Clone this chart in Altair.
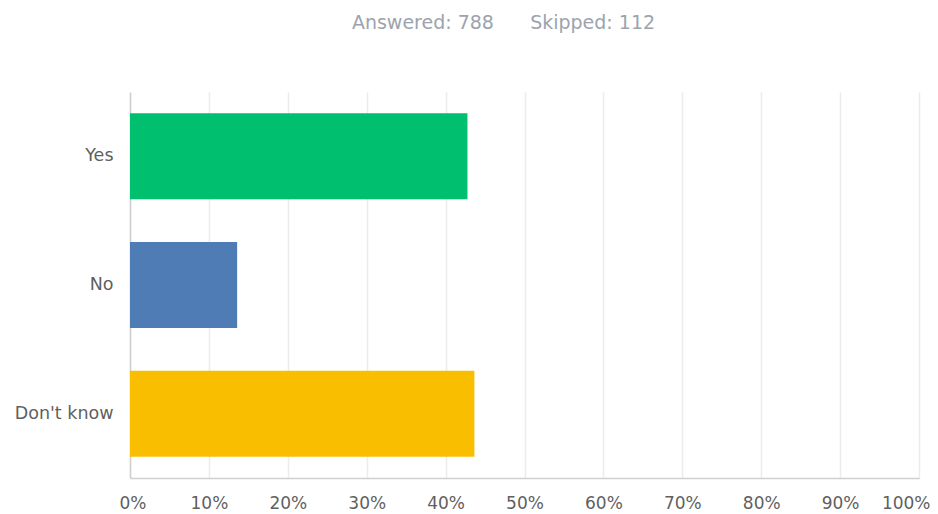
import altair as alt
import pandas as pd

categories = ["Yes", "No", "Don't know"]
percents = [42.77, 13.58, 43.65]
colors = ["#00BF6F", "#507CB6", "#F9BE00"]
x_ticks = [0, 10, 20, 30, 40, 50, 60, 70, 80, 90, 100]
answered = 788
skipped = 112

df = pd.DataFrame({"answer": categories, "pct": percents, "color": colors})

nb = "\u00a0"
title_text = f"Answered:{nb}{answered}{nb * 6}Skipped:{nb}{skipped}"

chart = alt.Chart(df).mark_bar().encode(
    y=alt.Y("answer:N", sort=categories,
            scale=alt.Scale(paddingInner=0.332, paddingOuter=0.166),
            axis=alt.Axis(title=None, ticks=False, labelPadding=17, labelFontSize=17.5,
                          labelColor="#5f5f5f", labelFont="DejaVu Sans",
                          domainColor="#d0d0d0", domainWidth=1.5)),
    x=alt.X("pct:Q", scale=alt.Scale(domain=[0, 100], nice=False),
            axis=alt.Axis(title=None, values=x_ticks, ticks=False,
                          labelFlush=True, labelFlushOffset=11,
                          labelExpr="datum.value + '%'", labelPadding=17,
                          labelFontSize=17, labelColor="#5f5f5f", labelFont="DejaVu Sans",
                          gridColor="#ececec", gridWidth=1.5,
                          domainColor="#d0d0d0", domainWidth=1.5)),
    color=alt.Color("color:N", scale=None, legend=None),
).properties(
    width=789,
    height=386,
    title=alt.TitleParams(
        text=title_text,
        fontSize=19, font="DejaVu Sans", fontWeight="normal", color="#9ba4ae",
        anchor="middle", offset=59, dx=-21,
    ),
    autosize=alt.AutoSizeParams(type="none"),
    padding={"left": 122, "top": 84, "right": 11, "bottom": 36},
).configure_view(stroke=None)

chart.save("out.html", embed_options={"renderer": "svg", "actions": False})
